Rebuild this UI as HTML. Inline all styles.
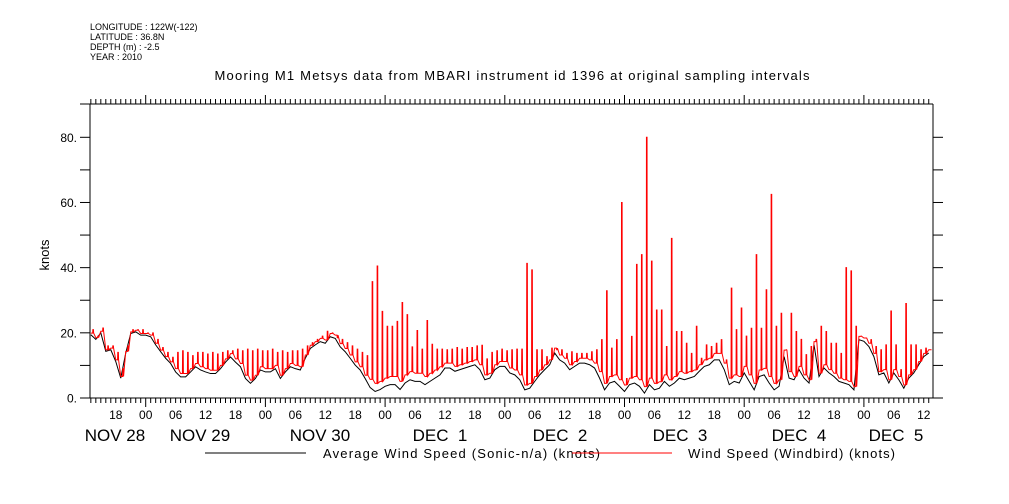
<!DOCTYPE html>
<html><head><meta charset="utf-8"><style>
body{margin:0;background:#fff;}
svg{display:block;font-family:"Liberation Sans",sans-serif;}
</style></head><body>
<svg id="chart" width="1009" height="504" viewBox="0 0 1009 504">
<g font-size="9" fill="#000">
<text x="90" y="30">LONGITUDE : 122W(-122)</text>
<text x="90" y="40">LATITUDE : 36.8N</text>
<text x="90" y="50">DEPTH (m) : -2.5</text>
<text x="90" y="60">YEAR : 2010</text>
</g>
<text x="512" y="80" text-anchor="middle" font-size="13" textLength="595">Mooring M1 Metsys data from MBARI instrument id 1396 at original sampling intervals</text>
<text transform="translate(49,255) rotate(-90)" text-anchor="middle" font-size="13">knots</text>
<g id="axes"></g>
<g id="series"></g>
<g>
<line x1="205" y1="453" x2="306" y2="453" stroke="#000" stroke-width="1"/>
<text x="323" y="458" font-size="13" textLength="277">Average Wind Speed (Sonic-n/a) (knots)</text>
<line x1="572" y1="453" x2="672" y2="453" stroke="#f00" stroke-width="1"/>
<text x="688" y="458" font-size="13" textLength="207">Wind Speed (Windbird) (knots)</text>
</g>
</svg>
<script>
// hourly samples starting Nov 28 13:00
const blackAvg = [19.4,18,20,14.3,14.8,11.2,6.1,13.8,19.8,20.3,19.3,19.3,18.8,16.3,14.2,12.2,10.6,8,6.5,6.5,8,9.6,8.6,8,7.5,7.5,9,11,12.6,
11,9.6,6,4.5,6,8.6,8,8,9,6,8,9.6,9,8.6,12.2,15.2,16.3,17.3,16.8,18.8,18.3,15.7,14.2,12.2,10.1,8.6,6,3.2,
2,2.6,3.6,4.1,4.1,2.6,4.6,5.6,5.1,5.1,4.1,5.1,6.1,7.1,9.2,9.2,8.2,8.7,9.2,9.7,10.2,8.7,5.6,6.1,8.7,9.7,9.7,7.7,
7.1,5.6,2.5,3,5.1,7.1,8.7,10.2,13.8,11.7,10.7,8.7,9.7,10.7,10.7,10.2,9.2,6.1,2.5,4.6,5.1,3.6,2,4.1,4.6,3.6,1.5,4.1,
2.5,3,5.1,3.6,4.6,6.1,5.6,6.1,6.6,8.2,9.7,10.2,11.7,11.7,8.7,4.1,5.1,4.6,7.7,5.1,2.5,6.6,7.1,4.6,2.5,3.6,12.7,6.1,
5.6,8.7,6.1,4.6,16.3,6.6,9.2,7.7,6.6,5.1,4.6,4.1,2.5,17.9,17.4,15.8,12.7,7.1,7.7,4.6,7.7,5.6,3,6.1,7.7,10.2,12.7,13.8];
const redBase = [19.9,18.5,20.5,14.8,15.3,11.7,6.6,14.3,20.3,20.8,19.8,19.8,19.3,16.8,14.7,12.7,11.1,9,7.5,7.5,9,10.6,9.6,9,8.5,8.5,10,12,13.6,
12,10.6,7,5.5,7,9.6,9,9,10,7,9,10.6,10,9.6,13.2,16.2,17.3,18.3,17.8,19.8,19.3,16.7,15.2,13.2,11.1,9.6,7,5.7,
4.5,5.1,6.1,6.6,6.6,5.1,7.1,8.1,7.6,7.6,6.6,7.6,8.6,9.6,10.7,10.7,9.7,10.2,10.7,11.2,11.7,10.2,7.1,7.6,10.2,11.2,11.2,9.2,
8.6,7.1,4,4.5,6.6,8.6,10.2,11.7,15.3,13.2,12.2,10.2,11.2,12.2,12.2,11.7,10.7,8.1,4.5,6.6,7.1,5.6,4,6.1,6.6,5.6,3.5,6.1,
4.5,5,7.1,5.6,6.6,8.1,7.6,8.1,8.6,10.2,11.7,12.2,13.7,13.7,10.7,6.1,7.1,6.6,9.7,7.1,4.5,8.6,9.1,6.6,4.5,5.6,14.7,8.1,
6.6,9.7,7.1,5.6,17.3,7.6,10.2,8.7,7.6,6.1,5.6,5.1,3.5,18.9,18.4,16.8,13.7,8.1,8.7,5.6,8.7,6.6,4,7.1,8.7,11.2,13.7,14.8];
const redPeak = [21,19,21.5,16,16,14,9,16,21,21,21,20,20,18,15.5,14,12.5,
14,14.5,14,13,14,14,13.5,14,13.5,14,14.5,14.5,
15,14.5,15,14.5,15,14.5,14.5,15,14,14.5,14,14.5,14.5,15,
16,17,18,19,20.5,20,18.5,18,17,16,15,14,13,
35.7,40.5,26.6,22,22,23.5,29.3,25.6,15.7,20.7,15,23.8,16.5,15,15,14.8,15,15.5,15,15.5,15.5,16,16.2,12,14,14.5,15,14.5,14.8,
15,15,41.3,39.3,14.8,14.8,12.7,15.3,14.8,14.8,13.7,14.2,13.7,13.7,13.7,14.2,14.8,17.9,32.9,15.3,17.9,60,6,18.9,41,44,80,42,
27,27,15.8,49,20.4,20.4,16.8,13.7,22,12.2,16.3,15.8,16.8,17.9,11.7,33.7,21,27.6,19,21.4,44,21.4,33.2,62.5,22,26,14.8,26,
20.4,18,13.3,15.8,18,22,20.4,16.8,16.8,13.7,40,39,22,19,18.4,17.9,15.8,14.8,16.3,26.7,16.3,8.7,29,16.3,16.3,14.8,15.3,14.8];
const yTicks = [0,20,40,60,80];
const yTickLabels = ["0.","20.","40.","60.","80."];
const hourLabels = ["18","00","06","12","18","00","06","12","18","00","06","12","18","00","06","12","18","00","06","12","18","00","06","12","18","00","06","12"];
const dayLabels = ["NOV 28","NOV 29","NOV 30","DEC  1","DEC  2","DEC  3","DEC  4","DEC  5"];
const dayLabelX = [115,200,320,440,560,680,799,896];

const NS = "http://www.w3.org/2000/svg";
const L = 90, R = 933, T = 104, B = 398;
const DAY = 119.7;
const day0 = 145.7 - DAY; // Nov 28 00:00
function xHourFromStart(h){ return day0 + DAY*(13 + h)/24; }
function xAbsHour(hh){ return day0 + DAY*hh/24; }
function yVal(v){ return B - v*(B - 137.3)/80; }
function el(tag, attrs, parent){ const e=document.createElementNS(NS,tag); for(const k in attrs) e.setAttribute(k,attrs[k]); parent.appendChild(e); return e; }

const axes = document.getElementById('axes');
let a = el('line',{x1:L,y1:T,x2:L,y2:B,stroke:'#000'},axes);


a = el('line',{x1:R,y1:T,x2:R,y2:B,stroke:'#000'},axes);


a = el('line',{x1:80,y1:T,x2:R,y2:T,stroke:'#000'},axes);


a = el('line',{x1:80,y1:B,x2:943,y2:B,stroke:'#000'},axes);


for(let v=0; v<=80; v+=10){
  const y = yVal(v);
  let t = el('line',{x1:80,y1:y,x2:L,y2:y,stroke:'#000'},axes);
  
  
  t = el('line',{x1:R,y1:y,x2:943,y2:y,stroke:'#000'},axes);
  
  
}
yTicks.forEach((v,i)=>{
  const t = el('text',{x:77,y:yVal(v)+4.5,'text-anchor':'end','font-size':12},axes);
  t.textContent = yTickLabels[i];
  
  
});
for(let hh=11; hh<=24*7+14; hh++){
  const x = xAbsHour(hh);
  if(x < L-0.5 || x > R+0.5) continue;
  const major = hh%24===0;
  let t = el('line',{x1:x,y1:B,x2:x,y2:B+(major?9:5),stroke:'#000'},axes);
  
  
  t = el('line',{x1:x,y1:T,x2:x,y2:T-(major?9:5),stroke:'#000'},axes);
  
  
}
hourLabels.forEach((s,i)=>{
  const x = xAbsHour(18 + 6*i);
  const t = el('text',{x:x,y:419,'text-anchor':'middle','font-size':12},axes);
  t.textContent = s;
  
  
});
dayLabels.forEach((s,i)=>{
  const t = el('text',{x:dayLabelX[i],y:441,'text-anchor':'middle','font-size':17},axes);
  t.style.whiteSpace='pre';
  t.textContent = s;
  
  
});

const series = document.getElementById('series');
let pts = blackAvg.map((v,i)=>xHourFromStart(i).toFixed(2)+','+yVal(v).toFixed(2));
const bl = el('polyline',{points:pts.join(' '),fill:'none',stroke:'#000','stroke-width':1},series);


let rp = [];
redBase.forEach((v,i)=>{
  const x = xHourFromStart(i);
  rp.push(x.toFixed(2)+','+yVal(v).toFixed(2));
  rp.push((x+1.8).toFixed(2)+','+yVal(redBase[i]).toFixed(2));
  rp.push((x+2.0).toFixed(2)+','+yVal(redPeak[i]).toFixed(2));
  rp.push((x+2.6).toFixed(2)+','+yVal(redPeak[i]).toFixed(2));
  rp.push((x+2.8).toFixed(2)+','+yVal(redBase[i]).toFixed(2));
});
const rl = el('polyline',{points:rp.join(' '),fill:'none',stroke:'#f00','stroke-width':1},series);


</script>
</body></html>
